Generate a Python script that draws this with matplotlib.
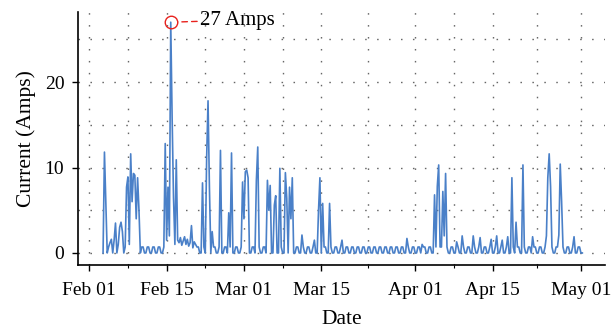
import numpy as np
import pandas as pd
import matplotlib
matplotlib.use('Agg')
import matplotlib.pyplot as plt
import matplotlib.dates as mdates
from matplotlib.ticker import FixedLocator

plt.rcParams['font.family'] = ['Liberation Serif', 'DejaVu Serif']

# readings every 6 h starting 2021-02-03 12:00, one row per day
current_rows = [
    [0, 11.8, 6.0, 0], [0.7, 1.2, 1.6, 0], [1.5, 3.5, 0, 1.0], [3.0, 3.6, 2.5, 0],
    [0.7, 7.7, 8.9, 1.0], [11.6, 6.0, 9.3, 9.1], [4.0, 8.8, 5.0, 0], [0.7, 0.7, 0, 0],
    [0.7, 0.7, 0, 0], [0.7, 0.7, 0, 0], [0.7, 0.7, 0, 0], [0.7, 12.8, 1.5, 7.7],
    [2.0, 27.0, 15.8, 6.5], [1.0, 10.9, 1.5, 1.2], [1.8, 0.9, 1.4, 1.9], [1.0, 1.6, 0.8, 1.2],
    [3.2, 0.6, 1.3, 1.0], [0.7, 0.7, 0, 0], [8.2, 0.7, 0, 11.2], [17.8, 7.7, 0, 2.5],
    [0.7, 0.7, 0, 0], [0.7, 12.0, 0, 0], [0.7, 0.7, 0, 4.7], [0.7, 11.7, 0, 0],
    [0.7, 0.7, 0, 0], [0.7, 8.3, 4.0, 9.5], [9.7, 8.8, 0, 0], [0.7, 0.7, 0, 8.5],
    [12.4, 0.7, 0, 0], [0.7, 0.7, 0, 8.5], [5.0, 7.9, 0, 0], [5.6, 6.7, 0, 0],
    [9.9, 0.7, 0, 0], [9.4, 6.4, 0, 7.7], [4.0, 8.8, 0, 0], [0.7, 0.7, 0, 0],
    [2.1, 0.7, 0, 0], [0.7, 0.7, 0, 0], [0.7, 1.5, 0, 0], [5.0, 8.8, 0, 5.8],
    [0.7, 0.7, 0, 0], [5.8, 0.7, 0, 0], [0.7, 0.7, 0, 0], [0.7, 1.5, 0, 0],
    [0.7, 0.7, 0, 0], [0.7, 0.7, 0, 0], [0.7, 0.7, 0, 0], [0.7, 0.7, 0, 0],
    [0.7, 0.7, 0, 0], [0.7, 0.7, 0, 0], [0.7, 0.7, 0, 0], [0.7, 0.7, 0, 0],
    [0.7, 0.7, 0, 0], [0.7, 0.7, 0, 0], [0.7, 0.7, 0, 0], [1.7, 0.7, 0, 0],
    [0.7, 0.7, 0, 0], [0.7, 0.7, 0, 1.0], [0.7, 0.7, 0, 0], [0.7, 0.7, 0, 0],
    [6.8, 0.7, 7.8, 10.3], [0.7, 0.7, 7.2, 2.0], [9.3, 0.7, 0, 0], [0.7, 0.7, 0, 0],
    [1.3, 0.7, 0, 0], [2.0, 0.7, 0, 0], [0.7, 0.7, 0, 0], [2.0, 0.7, 0, 0],
    [0.7, 1.8, 0, 0], [0.7, 0.7, 0, 0], [0.7, 1.6, 0, 0], [0.7, 2.0, 0, 0],
    [0.7, 1.5, 0, 0], [0.7, 1.9, 0, 0], [8.8, 0.7, 0, 3.6], [0.7, 0.7, 0, 0],
    [10.3, 0.7, 0, 0], [0.7, 0.7, 0, 1.9], [0.7, 0.7, 0, 0], [0.7, 0.7, 0, 0],
    [0.7, 2.0, 8.8, 11.6], [7.8, 0.7, 0, 0], [0.7, 0.7, 2.1, 10.4], [6.0, 0.7, 0, 0],
    [0.7, 0.7, 0, 0], [0.7, 1.9, 0, 0], [0.7, 0.7, 0, 0],
]
start_time = '2021-02-03 12:00'
major_ticks = ['2021-02-01', '2021-02-15', '2021-03-01', '2021-03-15',
               '2021-04-01', '2021-04-15', '2021-05-01']
minor_ticks = ['2021-02-08 00:00', '2021-02-22 00:00', '2021-03-08 00:00',
               '2021-03-23 12:00', '2021-04-08 00:00', '2021-04-23 00:00']
peak_label = '27 Amps'

current = np.array(current_rows).ravel()
times = pd.date_range(start_time, periods=len(current), freq='6h')
peak_i = int(np.argmax(current))

fig = plt.figure(figsize=(6.11, 3.32), dpi=100)
ax = fig.add_axes([0.128, 0.202, 0.862, 0.762])

ax.plot(times, current, color='#4a80c8', lw=1.2)
ax.plot(times[peak_i], current[peak_i], 'o', ms=9, mfc='none', mec='#e8211d', mew=1.0)
ax.annotate(peak_label, xy=(times[peak_i], current[peak_i]), xytext=(21, 1.5),
            textcoords='offset points', va='center', ha='left', fontsize=15,
            arrowprops=dict(arrowstyle='-', color='#e8211d', lw=1.0, ls=(0, (4, 3)),
                            shrinkA=0, shrinkB=5))

ax.set_xlim(pd.Timestamp('2021-01-30'), pd.Timestamp('2021-05-05 08:00'))
ax.set_ylim(-1.4, 28.2)
ax.xaxis.set_major_locator(FixedLocator(mdates.date2num(pd.to_datetime(major_ticks))))
ax.xaxis.set_minor_locator(FixedLocator(mdates.date2num(pd.to_datetime(minor_ticks))))
ax.xaxis.set_major_formatter(mdates.DateFormatter('%b %d'))
ax.set_yticks([0, 10, 20])
ax.set_yticks([5, 15, 25], minor=True)

grid_style = dict(color='#666666', lw=1.0, ls=(0, (1.1, 7.5)))
ax.grid(True, which='both', **grid_style)

for s in ['top', 'right']:
    ax.spines[s].set_visible(False)
for s in ['left', 'bottom']:
    ax.spines[s].set_linewidth(1.2)
ax.tick_params(axis='both', which='major', labelsize=14, length=4, width=1.0)
ax.tick_params(axis='x', which='major', pad=8)
ax.tick_params(axis='y', which='major', pad=6)
ax.tick_params(axis='x', which='minor', length=2, width=0.8)
ax.tick_params(axis='y', which='minor', length=0)

ax.set_xlabel('Date', fontsize=15.5, labelpad=8)
ax.set_ylabel('Current (Amps)', fontsize=15.5, labelpad=6)

fig.savefig('out.png', dpi=100)
